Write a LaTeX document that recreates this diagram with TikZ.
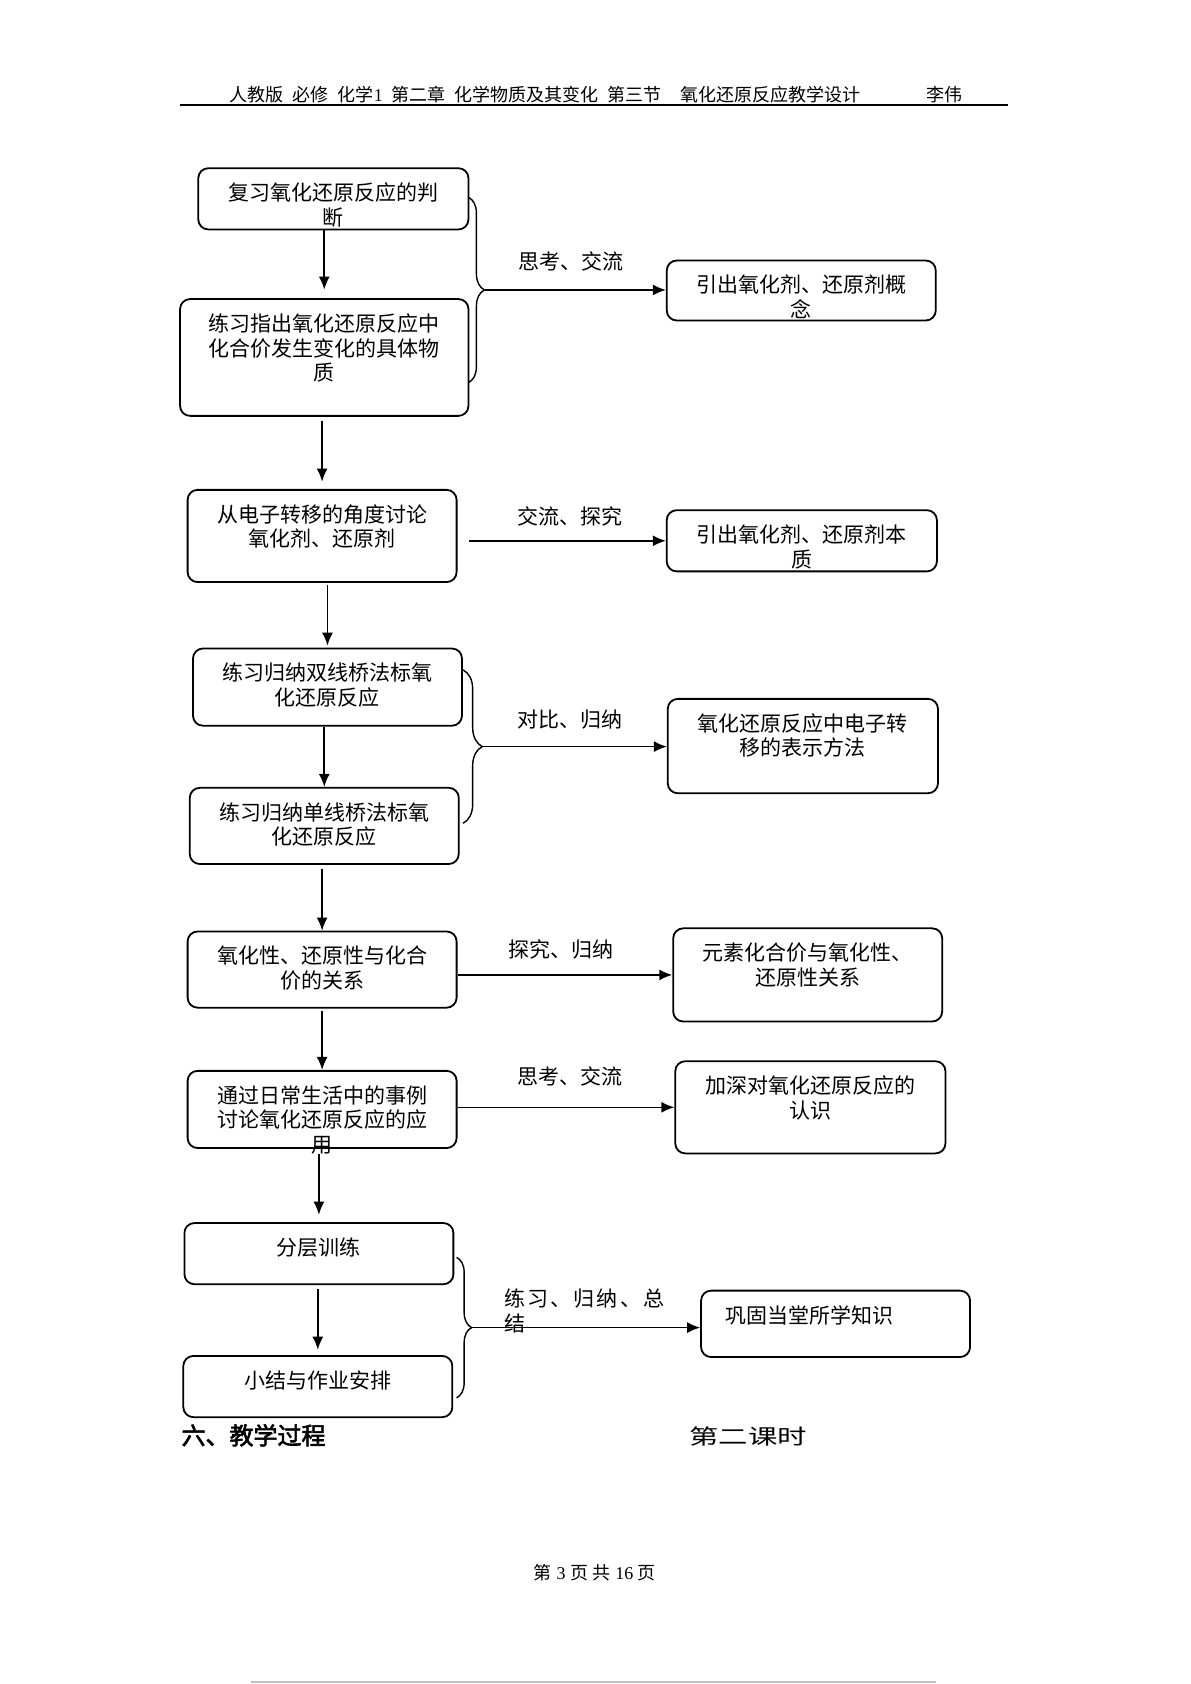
\documentclass[tikz,border=0pt]{standalone}
\usepackage{fontspec}
\usepackage{graphicx}
\setmainfont{Noto Sans CJK SC}
\newfontfamily\latin{Liberation Serif}
\newfontfamily\heavy[FakeBold=2.5]{Noto Sans CJK SC}
\usetikzlibrary{arrows.meta,decorations.pathreplacing}
\newcommand{\steptext}[3]{\parbox[c][#2][t]{#1}{\centering\fontsize{10.5pt}{12.3pt}\selectfont\vspace*{7.3pt}#3}}
\begin{document}
\begin{tikzpicture}[x=0.536pt,y=-0.536pt]
	    \tikzset{>={Latex[length=6.5pt,width=5.5pt]}}
	    \tikzset{stepbox/.style={draw,line width=0.9pt,rounded corners=5pt,inner sep=0pt}}
	    \tikzset{flow/.style={->,line width=0.8pt}}
	    \tikzset{tag/.style={font=\fontsize{10.5pt}{12.3pt}\selectfont,inner sep=0pt}}
	    \useasboundingbox (0,0) rectangle (1111,1571);
	    \node[anchor=west,inner sep=0pt,font=\fontsize{9pt}{11pt}\selectfont] (head) at (214,88) {人教版\hspace{4.5pt}必修\hspace{4.5pt}化学{\latin 1}\hspace{4.5pt}第二章\hspace{4.5pt}化学物质及其变化\hspace{4.5pt}第三节\hspace{9.5pt}氧化还原反应教学设计};
	    \node[anchor=west,inner sep=0pt,font=\fontsize{9pt}{11pt}\selectfont] (author) at (864,88) {李伟};
	    \draw[line width=0.75pt] (168,98) -- (940,98);
	    \node[stepbox] (b1) at (311,185.5) {\steptext{135.1pt}{30.6pt}{复习氧化还原反应的判\\断}};
	    \node[stepbox] (b2) at (302.5,333.5) {\steptext{144.2pt}{58.4pt}{练习指出氧化还原反应中\\化合价发生变化的具体物\\质}};
	    \node[stepbox] (b3) at (747.5,271) {\steptext{134.5pt}{30pt}{引出氧化剂、还原剂概\\念}};
	    \node[stepbox] (b4) at (300.5,500) {\steptext{134.5pt}{46.1pt}{从电子转移的角度讨论\\氧化剂、还原剂}};
	    \node[stepbox] (b5) at (748,504.5) {\steptext{135.1pt}{30.6pt}{引出氧化剂、还原剂本\\质}};
	    \node[stepbox] (b6) at (305.5,641) {\steptext{134.5pt}{38.6pt}{练习归纳双线桥法标氧\\化还原反应}};
	    \node[stepbox] (b7) at (302.5,770.5) {\steptext{134.5pt}{38.1pt}{练习归纳单线桥法标氧\\化还原反应}};
	    \node[stepbox] (b8) at (749,696) {\steptext{135.1pt}{47.2pt}{氧化还原反应中电子转\\移的表示方法}};
	    \node[stepbox] (b9) at (300.5,904.5) {\steptext{134.5pt}{38.1pt}{氧化性、还原性与化合\\价的关系}};
	    \node[stepbox] (b10) at (753.5,909.5) {\steptext{134.5pt}{46.6pt}{元素化合价与氧化性、\\还原性关系}};
	    \node[stepbox] (b11) at (300.5,1035) {\steptext{134.5pt}{38.6pt}{通过日常生活中的事例\\讨论氧化还原反应的应\\用}};
	    \node[stepbox] (b12) at (756,1033) {\steptext{135.1pt}{46.1pt}{加深对氧化还原反应的\\认识}};
	    \node[stepbox] (b13) at (297.5,1169.5) {\steptext{134.5pt}{30.6pt}{分层训练}};
	    \node[stepbox] (b14) at (296.5,1293.5) {\steptext{134.5pt}{30.6pt}{小结与作业安排}};
	    \node[stepbox] (b15) at (779.5,1235) {\steptext{134.5pt}{33.2pt}{\raggedright\hspace*{12.3pt}巩固当堂所学知识}};
	    \draw[decorate,decoration={brace,amplitude=8pt},line width=0.7pt] (437,184) -- (437,357);
	    \draw[decorate,decoration={brace,amplitude=9.6pt},line width=0.7pt] (432,625) -- (432,768);
	    \draw[decorate,decoration={brace,amplitude=7.5pt},line width=0.7pt] (426,1173) -- (426,1304);
	    \coordinate (tip1) at (452,270.5);
	    \coordinate (tip2) at (450,696.5);
	    \coordinate (tip3) at (440,1238.5);
	    \draw[flow,shorten >=4.3pt] (b2.north |- b1.south) -- (b2.north);
	    \draw[flow,shorten <=2pt,shorten >=3.7pt] (b4.north |- b2.south) -- (b4.north);
	    \draw[flow,shorten <=1pt,shorten >=1pt] (b6.north |- b4.south) -- (b6.north);
	    \draw[flow] (b7.north |- b6.south) -- (b7.north);
	    \draw[flow,shorten <=2pt] (b9.north |- b7.south) -- (b9.north);
	    \draw[flow,shorten <=1pt] (b11.north |- b9.south) -- (b11.north);
	    \draw[flow,shorten <=2.7pt,shorten >=3.7pt] (b13.north |- b11.south) -- (b13.north);
	    \draw[flow,shorten <=2pt,shorten >=2.7pt] (b14.north |- b13.south) -- (b14.north);
	    \draw[flow] (tip1) -- (tip1 -| b3.west);
	    \draw[flow,shorten <=5.9pt] (b4.east |- b5.west) -- (b5.west);
	    \draw[flow] (tip2) -- (tip2 -| b8.west);
	    \draw[flow] (b9.east |- b10.west) -- (b10.west);
	    \draw[flow] (b11.east |- b12.west) -- (b12.west);
	    \draw[flow] (tip3) -- (tip3 -| b15.west);
	    \node[tag] (l1) at (533,244) {思考、交流};
	    \node[tag] (l2) at (532,482) {交流、探究};
	    \node[tag] (l3) at (532,671) {对比、归纳};
	    \node[tag] (l4) at (523,886) {探究、归纳};
	    \node[tag] (l5) at (532,1004) {思考、交流};
	    \node[tag,anchor=north west,align=left] (l6) at (470,1202) {\makebox[80pt][l]{练\hfill 习\hfill 、\hfill 归\hfill 纳\hfill 、\hfill 总}\\结};
	    \node[anchor=west,inner sep=0pt,font=\heavy\fontsize{12pt}{14pt}\selectfont] (part) at (169,1339) {六、教学过程};
	    \node[inner sep=0pt,font=\fontsize{10.5pt}{12pt}\selectfont] (lesson) at (698,1340) {\scalebox{1.4}[1]{第二课时}};
	    \node[inner sep=0pt,font=\fontsize{9pt}{11pt}\selectfont] (foot) at (555,1467) {第\hspace{2.3pt}{\latin 3}\hspace{2.3pt}页\hspace{2.3pt}共\hspace{2.3pt}{\latin 16}\hspace{2.3pt}页};
	    \draw[gray!50,line width=1pt] (234,1569) -- (873,1569);
	    \end{tikzpicture}
\end{document}
